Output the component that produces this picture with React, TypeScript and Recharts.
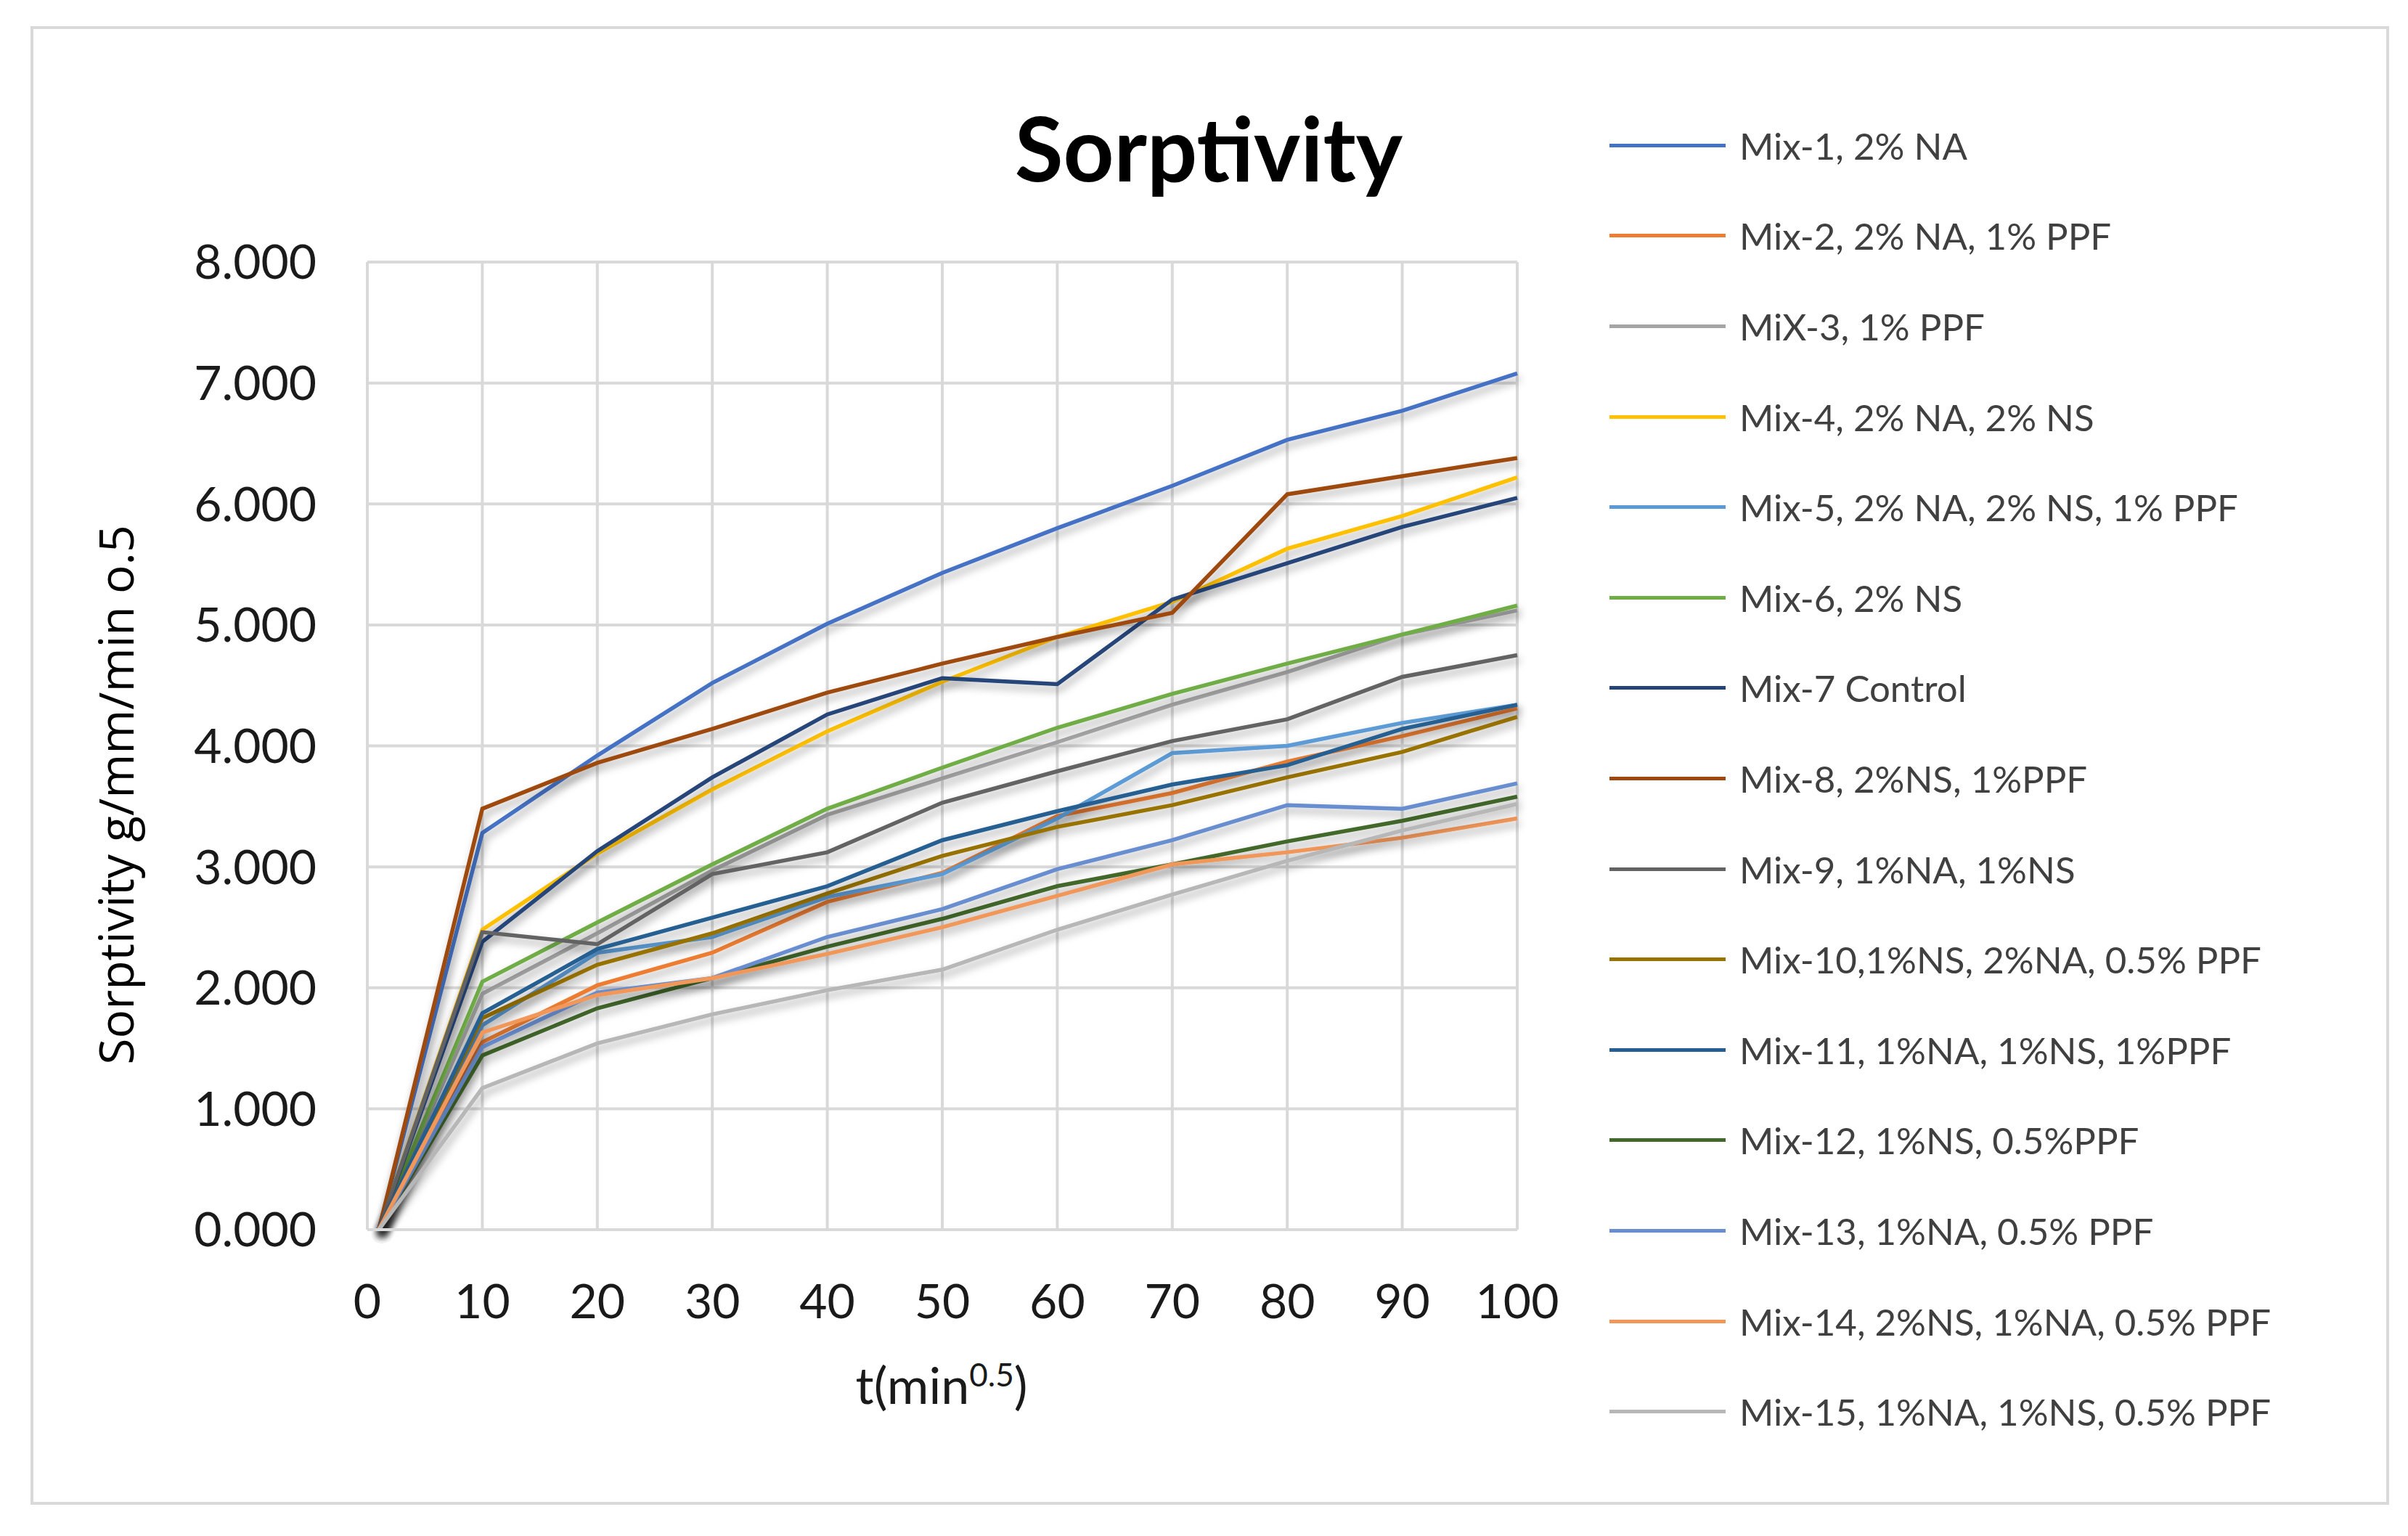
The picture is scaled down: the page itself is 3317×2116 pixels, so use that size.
import React from 'react'
import { LineChart, Line, XAxis, YAxis, CartesianGrid } from 'recharts'

// time axis, t (min^0.5)
const times = [1, 10, 20, 30, 40, 50, 60, 70, 80, 90, 100]
const xTicks = [0, 10, 20, 30, 40, 50, 60, 70, 80, 90, 100]
const yTicks = [0, 1, 2, 3, 4, 5, 6, 7, 8]

const seriesNames = [
  'Mix-1, 2% NA',
  'Mix-2, 2% NA, 1% PPF',
  'MiX-3, 1% PPF',
  'Mix-4, 2% NA, 2% NS',
  'Mix-5, 2% NA, 2% NS, 1% PPF',
  'Mix-6, 2% NS',
  'Mix-7 Control',
  'Mix-8, 2%NS, 1%PPF',
  'Mix-9, 1%NA, 1%NS',
  'Mix-10,1%NS, 2%NA, 0.5% PPF',
  'Mix-11, 1%NA, 1%NS, 1%PPF',
  'Mix-12, 1%NS, 0.5%PPF',
  'Mix-13, 1%NA, 0.5% PPF',
  'Mix-14, 2%NS, 1%NA, 0.5% PPF',
  'Mix-15, 1%NA, 1%NS, 0.5% PPF',
]

const seriesColors = [
  '#4472C4', '#ED7D31', '#A5A5A5', '#FFC000', '#5B9BD5',
  '#70AD47', '#264478', '#9E480E', '#636363', '#997300',
  '#255E91', '#43682B', '#698ED0', '#F1975A', '#B7B7B7',
]

const mix1 = [0, 3.28, 3.92, 4.52, 5.01, 5.43, 5.8, 6.15, 6.53, 6.77, 7.08]
const mix2 = [0, 1.55, 2.02, 2.29, 2.71, 2.95, 3.42, 3.61, 3.87, 4.08, 4.31]
const mix3 = [0, 1.95, 2.45, 2.97, 3.43, 3.73, 4.03, 4.34, 4.61, 4.92, 5.12]
const mix4 = [0, 2.48, 3.11, 3.64, 4.12, 4.53, 4.9, 5.19, 5.63, 5.9, 6.22]
const mix5 = [0, 1.69, 2.29, 2.42, 2.75, 2.94, 3.4, 3.94, 4.0, 4.19, 4.34]
const mix6 = [0, 2.05, 2.54, 3.02, 3.48, 3.82, 4.15, 4.43, 4.68, 4.92, 5.16]
const mix7 = [0, 2.38, 3.13, 3.74, 4.26, 4.56, 4.51, 5.21, 5.51, 5.81, 6.05]
const mix8 = [0, 3.48, 3.86, 4.14, 4.44, 4.68, 4.9, 5.1, 6.08, 6.23, 6.38]
const mix9 = [0, 2.46, 2.36, 2.94, 3.12, 3.53, 3.79, 4.04, 4.22, 4.57, 4.75]
const mix10 = [0, 1.75, 2.19, 2.45, 2.78, 3.09, 3.33, 3.51, 3.74, 3.95, 4.24]
const mix11 = [0, 1.79, 2.32, 2.58, 2.84, 3.22, 3.46, 3.68, 3.84, 4.14, 4.34]
const mix12 = [0, 1.44, 1.83, 2.08, 2.34, 2.57, 2.84, 3.02, 3.21, 3.38, 3.58]
const mix13 = [0, 1.51, 1.96, 2.08, 2.42, 2.65, 2.98, 3.22, 3.51, 3.48, 3.69]
const mix14 = [0, 1.63, 1.94, 2.08, 2.28, 2.5, 2.76, 3.02, 3.12, 3.24, 3.4]
const mix15 = [0, 1.17, 1.54, 1.78, 1.98, 2.15, 2.48, 2.77, 3.05, 3.3, 3.52]

const seriesValues = [
  mix1, mix2, mix3, mix4, mix5, mix6, mix7, mix8,
  mix9, mix10, mix11, mix12, mix13, mix14, mix15,
]

const chartData = times.map((t, i) => {
  const row: Record<string, number> = { t }
  seriesValues.forEach((vals, s) => {
    row[`s${s}`] = vals[i]
  })
  return row
})

const W = 3317
const H = 2116
const gridColor = '#d9d9d9'

const App = () => {
  return (
    <div
      style={{
        position: 'absolute',
        left: 0,
        top: 0,
        width: W,
        height: H,
        background: '#fff',
        fontFamily: 'Lato, sans-serif',
        overflow: 'hidden',
      }}
    >
      <style>{`.recharts-line-curve { filter: url(#lineShadow); }`}</style>
      <div
        style={{
          position: 'absolute',
          left: 42,
          top: 36,
          width: 3249,
          height: 2037,
          border: `4px solid ${gridColor}`,
          boxSizing: 'border-box',
        }}
      />

      <div
        style={{
          position: 'absolute',
          left: 1265,
          top: 142,
          width: 800,
          textAlign: 'center',
          fontSize: 122,
          lineHeight: '122px',
          fontWeight: 700,
          color: '#000',
        }}
      >
        Sorptivity
      </div>

      <div style={{ position: 'absolute', left: 0, top: 0 }}>
        <LineChart
          width={W}
          height={H}
          data={chartData}
          margin={{ top: 361, left: 306, right: W - 2090, bottom: 322 }}
        >
          <defs>
            <filter id="lineShadow" x="-10%" y="-10%" width="120%" height="130%">
              <feDropShadow dx="3" dy="7" stdDeviation="6" floodColor="#000" floodOpacity="0.35" />
            </filter>
          </defs>
          <CartesianGrid stroke={gridColor} strokeWidth={4} />
          <XAxis
            dataKey="t"
            type="number"
            domain={[0, 100]}
            ticks={xTicks}
            height={100}
            tickSize={0}
            tickMargin={75}
            axisLine={{ stroke: gridColor, strokeWidth: 4 }}
            tickLine={false}
            tick={{ fontSize: 66, fill: '#1a1a1a', fontFamily: 'Lato' }}
            interval={0}
          />
          <YAxis
            type="number"
            domain={[0, 8]}
            ticks={yTicks}
            width={200}
            tickSize={0}
            tickMargin={70}
            axisLine={{ stroke: gridColor, strokeWidth: 4 }}
            tickLine={false}
            tickFormatter={(v: number) => v.toFixed(3)}
            tick={{ fontSize: 66, fill: '#1a1a1a', fontFamily: 'Lato' }}
            interval={0}
          />
          {seriesNames.map((name, s) => (
            <Line
              key={name}
              name={name}
              dataKey={`s${s}`}
              type="linear"
              stroke={seriesColors[s]}
              strokeWidth={5.5}
              dot={false}
              activeDot={false}
              isAnimationActive={false}
            />
          ))}
        </LineChart>
      </div>

      {/* y axis title */}
      <div
        style={{
          position: 'absolute',
          left: 158,
          top: 1095,
          transform: 'translate(-50%, -50%) rotate(-90deg)',
          whiteSpace: 'nowrap',
          fontFamily: '"Open Sans", sans-serif',
          fontSize: 66,
          color: '#000',
        }}
      >
        Sorptivity g/mm/min o.5
      </div>

      {/* x axis title */}
      <div
        style={{
          position: 'absolute',
          left: 1297,
          top: 1907,
          transform: 'translate(-50%, -50%)',
          whiteSpace: 'nowrap',
          fontSize: 70,
          color: '#1a1a1a',
        }}
      >
        t(min<sup style={{ fontSize: 44 }}>0.5</sup>)
      </div>

      {/* legend */}
      <div style={{ position: 'absolute', left: 2217, top: 138 }}>
        {seriesNames.map((name, s) => (
          <div
            key={name}
            style={{ height: 124.6, display: 'flex', alignItems: 'center' }}
          >
            <div style={{ width: 160, height: 5, background: seriesColors[s], marginRight: 19 }} />
            <span style={{ fontSize: 51, color: '#404040', whiteSpace: 'nowrap' }}>{name}</span>
          </div>
        ))}
      </div>
    </div>
  )
}

export default App
